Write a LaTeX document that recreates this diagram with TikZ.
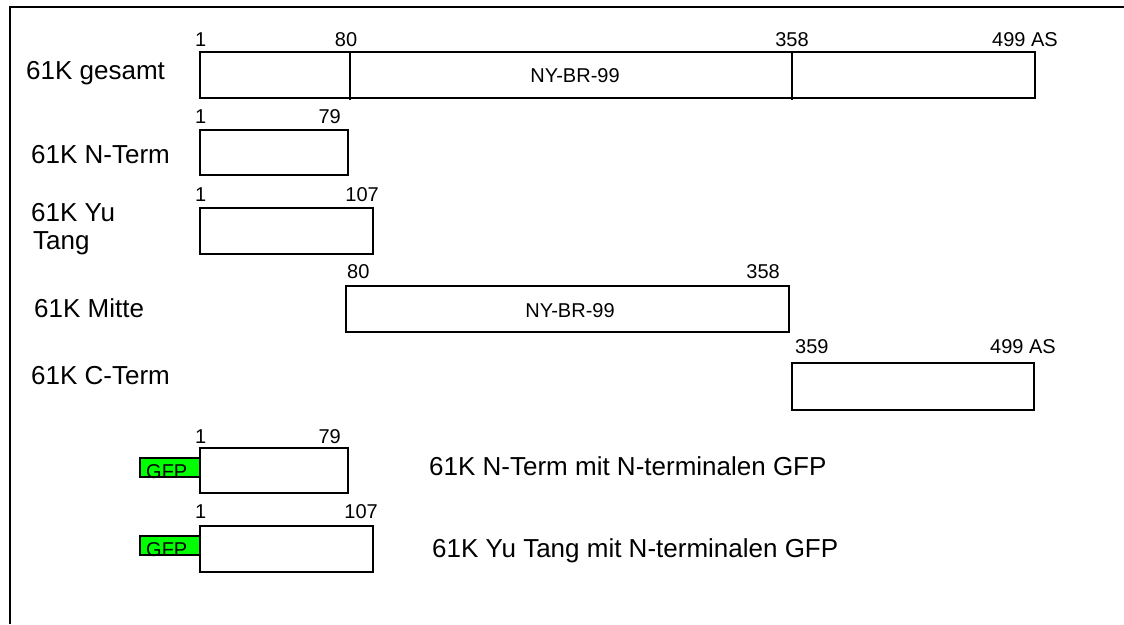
\documentclass[tikz,border=0pt]{standalone}
\usepackage{fontspec}
\setmainfont{Liberation Sans}
\begin{document}
\begin{tikzpicture}[x=1pt,y=-1pt,
  seg/.style={draw, line width=1.5pt, fill=white, inner sep=0pt, outer sep=0pt, anchor=north west},
  gfpbox/.style={draw, line width=1.5pt, fill=green, inner sep=0pt, outer sep=0pt, anchor=north west},
  big/.style={font=\fontsize{26}{29}\selectfont, inner sep=0pt, anchor=base west},
  num/.style={font=\fontsize{20}{22}\selectfont, inner sep=0pt},
  gfptext/.style={font=\fontsize{20}{22}\selectfont, inner sep=0pt, anchor=base west},
  divider/.style={line width=1.5pt}]
\useasboundingbox (0,0) rectangle (1124,624);
\fill[white] (0,0) rectangle (1124,624);
% frame
\coordinate (fbl) at (10,624);
\coordinate (ftl) at (10,7);
\coordinate (ftr) at (1124,7);
\draw[line width=1.8pt] (fbl) -- (ftl) -- (ftr);

% row 1: 61K gesamt
\node[big] (lg) at (26,79) {61K gesamt};
\node[seg, minimum width=835pt, minimum height=46pt] (bg) at (200,52) {};
\coordinate (d1t) at (350,52);
\coordinate (d1b) at (350,100);
\coordinate (d2t) at (792,52);
\coordinate (d2b) at (792,100);
\draw[divider] (d1t) -- (d1b);
\draw[divider] (d2t) -- (d2b);
\node[num, anchor=base west] (g1) at (195,46) {1};
\node[num, anchor=base] (g80) at (346,46) {80};
\node[num, anchor=base] (g358) at (792,46) {358};
\node[num, anchor=base west] (g499) at (992,46) {499 AS};
\node[num, anchor=center] (gny) at (575,76) {NY-BR-99};

% row 2: N-Term
\node[big] (ln) at (31,163) {61K N-Term};
\node[seg, minimum width=148pt, minimum height=45pt] (bn) at (200,130) {};
\node[num, anchor=base west] (n1) at (195,123) {1};
\node[num, anchor=base east] (n79) at (341,123) {79};

% row 3: Yu Tang
\node[big] (ly1) at (31,221) {61K Yu};
\node[big] (ly2) at (33,249) {Tang};
\node[seg, minimum width=173pt, minimum height=46pt] (by) at (200,208) {};
\node[num, anchor=base west] (y1) at (195,201) {1};
\node[num, anchor=base east] (y107) at (379,201) {107};

% row 4: Mitte
\node[big] (lm) at (34,317) {61K Mitte};
\node[seg, minimum width=443pt, minimum height=46pt] (bm) at (346,286) {};
\node[num, anchor=base west] (m80) at (347,278) {80};
\node[num, anchor=base east] (m358) at (780,278) {358};
\node[num, anchor=center] (mny) at (570,311) {NY-BR-99};

% row 5: C-Term
\node[big] (lc) at (31,384) {61K C-Term};
\node[seg, minimum width=242pt, minimum height=47pt] (bc) at (792,363) {};
\node[num, anchor=base west] (c359) at (795,353) {359};
\node[num, anchor=base west] (c499) at (990,353) {499 AS};

% row 6: GFP + N-Term
\node[gfpbox, minimum width=60pt, minimum height=19pt] (gf1) at (140,458) {};
\node[gfptext] (gt1) at (146,478) {GFP};
\node[seg, minimum width=148pt, minimum height=45pt] (bgn) at (200,448) {};
\node[num, anchor=base west] (gn1) at (195,443) {1};
\node[num, anchor=base east] (gn79) at (341,443) {79};
\node[big] (dn) at (429,475) {61K N-Term mit N-terminalen GFP};

% row 7: GFP + Yu Tang
\node[gfpbox, minimum width=60pt, minimum height=19pt] (gf2) at (140,536) {};
\node[gfptext] (gt2) at (146,556) {GFP};
\node[seg, minimum width=173pt, minimum height=46pt] (bgy) at (200,526) {};
\node[num, anchor=base west] (gy1) at (195,518) {1};
\node[num, anchor=base east] (gy107) at (378,518) {107};
\node[big] (dy) at (432,557) {61K Yu Tang mit N-terminalen GFP};
\end{tikzpicture}
\end{document}
